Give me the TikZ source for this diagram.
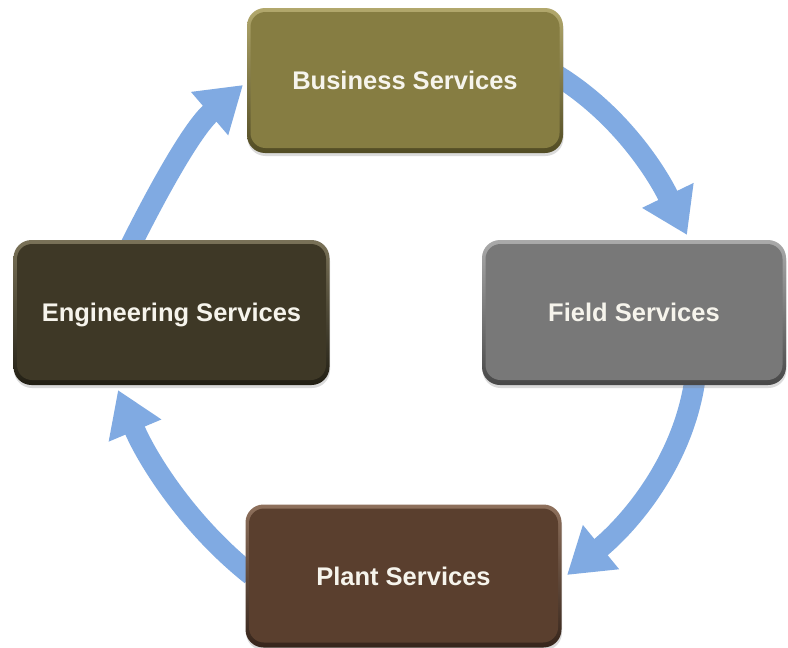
\documentclass[tikz,border=0pt]{standalone}
\usepackage{fontspec}
\setmainfont{Liberation Sans}
\usetikzlibrary{arrows.meta,shadows}

% palette
\definecolor{flow}{RGB}{128,170,226}
\definecolor{label}{RGB}{246,244,236}
\definecolor{bizTop}{RGB}{178,168,108}
\definecolor{bizMid}{RGB}{134,125,66}
\definecolor{bizBot}{RGB}{82,76,36}
\definecolor{fldTop}{RGB}{170,170,170}
\definecolor{fldMid}{RGB}{120,120,120}
\definecolor{fldBot}{RGB}{72,72,72}
\definecolor{engTop}{RGB}{122,114,88}
\definecolor{engMid}{RGB}{62,56,38}
\definecolor{engBot}{RGB}{34,31,20}
\definecolor{plnTop}{RGB}{142,112,92}
\definecolor{plnMid}{RGB}{90,63,46}
\definecolor{plnBot}{RGB}{54,37,27}

\pgfdeclarelayer{back}
\pgfsetlayers{back,main}

\tikzset{
  svc/.style={rounded corners=18pt, minimum width=316pt, minimum height=145pt,
    inner sep=0pt, text height=18.3pt, text depth=0pt, text=label,
    font=\fontsize{25.5}{30}\bfseries\selectfont,
    drop shadow={shadow xshift=0.5pt, shadow yshift=-3pt, opacity=0.28}},
  bevel/.style n args={3}{top color=#1, bottom color=#3,
    path picture={\fill[#2, rounded corners=15pt]
      ([shift={(3.5pt,-4pt)}]path picture bounding box.north west) rectangle
      ([shift={(-3.5pt,5pt)}]path picture bounding box.south east);}},
  flowarrow/.style={draw=flow, line width=21pt,
    -{Triangle[length=44pt,width=54pt]}},
}

\begin{document}
\begin{tikzpicture}[x=1pt,y=-1pt]
  \useasboundingbox (0,0) rectangle (788,648);

  % service boxes
  \node[svc, bevel={bizTop}{bizMid}{bizBot}] (bs) at (405,80.5) {Business Services};
  \node[svc, bevel={fldTop}{fldMid}{fldBot}, minimum width=304pt] (fs) at (634,312.5) {Field Services};
  \node[svc, bevel={engTop}{engMid}{engBot}] (es) at (171.5,312.5) {Engineering Services};
  \node[svc, bevel={plnTop}{plnMid}{plnBot}, minimum height=143pt] (ps) at (403.5,576) {Plant Services};

  % arrow tips
  \coordinate (t1) at (687,235);
  \coordinate (t2) at (567,575);
  \coordinate (t3) at (118,390);
  \coordinate (t4) at (243,85);

  \begin{pgfonlayer}{back}
    \fill[white] (0,0) rectangle (788,648);
    \draw[flowarrow] ([shift={(-6pt,5pt)}]bs.east)
      .. controls +(63,39) and +(-30,-62) .. (t1);
    \draw[flowarrow] ([shift={(61pt,6pt)}]fs.south)
      .. controls +(-12,84) and +(61,-50) .. (t2);
    \draw[flowarrow] ([shift={(6pt,1pt)}]ps.west)
      .. controls +(-63,-50) and +(29,69) .. (t3);
    \draw[flowarrow] ([shift={(-41pt,-6pt)}]es.north)
      .. controls +(31,-62) and +(-49,42) .. (t4);
  \end{pgfonlayer}
\end{tikzpicture}
\end{document}
